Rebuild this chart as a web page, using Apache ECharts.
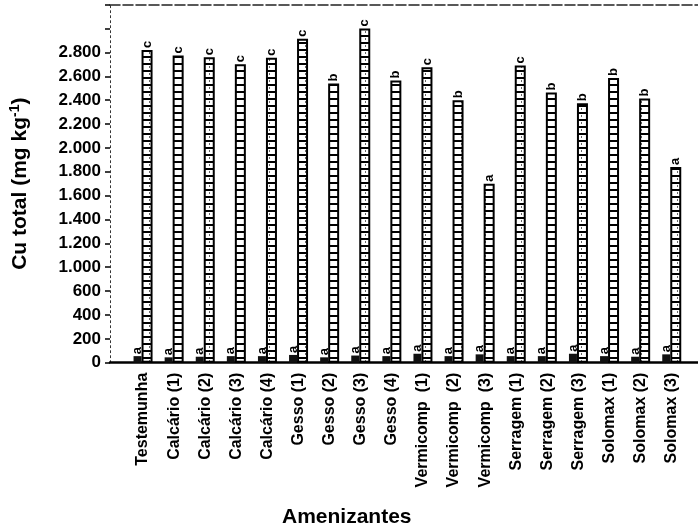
<!DOCTYPE html>
<html>
<head>
<meta charset="utf-8">
<script src="https://cdn.jsdelivr.net/npm/echarts@6/dist/echarts.min.js"></script>
<style>
html,body{margin:0;padding:0;background:#fff;}
#c{width:698px;height:531px;}
</style>
</head>
<body>
<div id="c"></div>
<script>
const categories = ['Testemunha','Calcário (1)','Calcário (2)','Calcário (3)','Calcário (4)','Gesso (1)','Gesso (2)','Gesso (3)','Gesso (4)','Vermicomp  (1)','Vermicomp  (2)','Vermicomp  (3)','Serragem (1)','Serragem (2)','Serragem (3)','Solomax (1)','Solomax (2)','Solomax (3)'];
const smallValues = [55,45,50,55,55,65,45,60,55,75,55,70,55,55,75,55,50,70];
const smallLetters = ['a','a','a','a','a','a','a','a','a','a','a','a','a','a','a','a','a','a'];
const tallValues = [2820,2775,2760,2700,2755,2915,2540,3000,2565,2675,2400,1700,2690,2465,2375,2585,2415,1840];
const tallLetters = ['c','c','c','c','c','c','b','c','b','c','b','a','c','b','b','b','b','a'];
const yTickValues = [0,200,400,600,1000,1200,1400,1600,1800,2000,2200,2400,2600,2800];
const yTickLabels = ['0','200','400','600','1.000','1.200','1.400','1.600','1.800','2.000','2.200','2.400','2.600','2.800'];
// the original y axis is broken: the span 800–1000 is left out
const yBreak = {start: 800, end: 1000};

const brkSpan = yBreak.end - yBreak.start;
function toAxis(v){ return v >= yBreak.end ? v - brkSpan : v; }
function fromAxis(p){ return p > yBreak.start - brkSpan ? p + brkSpan : p; }

function makePattern(){
  const cv = document.createElement('canvas');
  cv.width = 12; cv.height = 7;
  const g = cv.getContext('2d');
  g.fillStyle = '#fff'; g.fillRect(0,0,12,7);
  g.fillStyle = '#000'; g.fillRect(0,0,12,2);
  g.fillStyle = '#666'; g.fillRect(5,3,1,2);
  return cv;
}

const FONT = '"Liberation Sans", Arial, sans-serif';
const yCommon = {type: 'value', min: 0, max: 3000, interval: 200};

const chart = echarts.init(document.getElementById('c'), null, {renderer: 'canvas'});
chart.setOption({
  animation: false,
  backgroundColor: '#fff',
  title: {
    text: 'Amenizantes', left: 277, top: 502,
    textStyle: {fontFamily: FONT, fontSize: 21, fontWeight: 'bold', color: '#000'}
  },
  grid: [
    {left: 127.5, right: 10.7, top: 4.7, bottom: 168.3},
    {left: 108, right: 0, top: 4.7, bottom: 168.3}
  ],
  xAxis: [
    {
      type: 'category', data: categories, gridIndex: 0,
      axisLine: {show: false}, axisTick: {show: false},
      axisLabel: {interval: 0, rotate: 90, margin: 10, color: '#000',
        fontFamily: FONT, fontSize: 16, fontWeight: 'bold'}
    },
    {
      type: 'value', gridIndex: 1, min: 0, max: 1, position: 'bottom',
      axisLine: {show: true, lineStyle: {color: '#000', width: 2.5}},
      axisTick: {show: false}, axisLabel: {show: false}, splitLine: {show: false}
    },
    {
      type: 'value', gridIndex: 1, min: 0, max: 1, position: 'top',
      axisLine: {show: true, lineStyle: {color: '#222', width: 1.5, type: [10, 3]}},
      axisTick: {show: false}, axisLabel: {show: false}, splitLine: {show: false}
    }
  ],
  yAxis: [
    Object.assign({}, yCommon, {
      gridIndex: 0, show: false, splitLine: {show: false}
    }),
    Object.assign({}, yCommon, {
      gridIndex: 1,
      name: '{a|Cu total (mg kg}{b|-1}{a|)}',
      nameLocation: 'middle', nameGap: 78,
      nameTextStyle: {
        color: '#000',
        rich: {
          a: {fontFamily: FONT, fontSize: 21, fontWeight: 'bold', color: '#000'},
          b: {fontFamily: FONT, fontSize: 14, fontWeight: 'bold', color: '#000', verticalAlign: 'top', padding: [0, 0, 10, 0]}
        }
      },
      axisLine: {show: true, lineStyle: {color: '#333', width: 1, type: [2, 3]}},
      axisTick: {show: true, inside: false, length: 5, lineStyle: {color: '#000', width: 1.5}},
      splitLine: {show: false},
      axisLabel: {
        margin: 9, color: '#000', fontFamily: FONT, fontSize: 17, fontWeight: 'bold',
        formatter: function (p) {
          const i = yTickValues.indexOf(fromAxis(p));
          return i >= 0 ? yTickLabels[i] : '';
        }
      }
    })
  ],
  series: [
    {
      type: 'bar', xAxisIndex: 0, yAxisIndex: 0,
      data: smallValues.map(toAxis), barWidth: 8, barGap: '0%',
      itemStyle: {color: '#111'},
      label: {show: true, position: 'top', distance: 2, rotate: 90, align: 'left', verticalAlign: 'middle',
        fontFamily: FONT, fontSize: 13, fontWeight: 'bold', color: '#000',
        formatter: p => smallLetters[p.dataIndex]}
    },
    {
      type: 'bar', xAxisIndex: 0, yAxisIndex: 0,
      data: tallValues.map(toAxis), barWidth: 11, barGap: '0%',
      itemStyle: {color: {image: makePattern(), repeat: 'repeat'}, borderColor: '#000', borderWidth: 2},
      label: {show: true, position: 'top', distance: 2, rotate: 90, align: 'left', verticalAlign: 'middle',
        fontFamily: FONT, fontSize: 13, fontWeight: 'bold', color: '#000',
        formatter: p => tallLetters[p.dataIndex]}
    }
  ]
});
</script>
</body>
</html>
